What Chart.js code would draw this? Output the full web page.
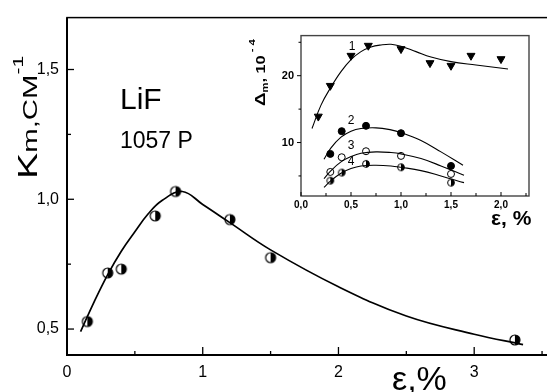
<!DOCTYPE html>
<html>
<head>
<meta charset="utf-8">
<script src="https://cdn.jsdelivr.net/npm/chart.js@4"></script>
<style>
  html, body { margin: 0; padding: 0; background: #fff; overflow: hidden; }
  #wrap { position: relative; width: 547px; height: 392px; overflow: hidden; }
  #main { position: absolute; left: 0; top: 0; width: 560px; height: 392px; }
  #inset { position: absolute; left: 240px; top: 22px; width: 300px; height: 210px; }
</style>
</head>
<body>
<div id="wrap">
  <canvas id="main" width="560" height="392"></canvas>
  <canvas id="inset" width="300" height="210"></canvas>
</div>
<script>
// main plot: K_m against strain, LiF 1057 P
const mainEps = [0.15, 0.30, 0.40, 0.65, 0.80, 1.20, 1.50, 3.30];
const mainKm = [0.529, 0.716, 0.731, 0.936, 1.03, 0.922, 0.775, 0.458];
const fitEps = [0.1, 0.2, 0.3, 0.4, 0.5, 0.6, 0.7, 0.85, 1.0, 1.2, 1.5, 2.0, 2.5, 3.0, 3.36];
const fitKm = [0.49, 0.605, 0.71, 0.80, 0.875, 0.945, 0.995, 1.03, 0.98, 0.91, 0.805, 0.663, 0.55, 0.48, 0.44];

const mainXTicks = [0, 1, 2, 3];
const mainXMinor = [0.5, 1.5, 2.5, 3.5];
const mainYTicks = [0.5, 1.0, 1.5];
const mainYMinor = [0.75, 1.25];

// inset: Delta_m (10^-4) against strain, curves 1-4
const eps1 = [0.173, 0.293, 0.5, 0.673, 1.0, 1.29, 1.5, 1.7, 2.0];
const delta1 = [13.9, 18.5, 23.0, 24.5, 24.0, 21.9, 21.5, 23.0, 22.5];
const epsB = [0.293, 0.407, 0.65, 1.0, 1.5];
const delta2 = [8.3, 11.7, 12.5, 11.4, 6.5];
const delta3 = [5.6, 7.8, 8.7, 8.0, 5.3];
const delta4 = [4.3, 5.5, 6.8, 6.3, 4.0];

const fit1Eps = [0.11, 0.2, 0.3, 0.4, 0.5, 0.6, 0.7, 0.8, 0.9, 1.0, 1.15, 1.3, 1.5, 1.75, 2.07];
const fit1 = [12.1, 15.6, 18.3, 20.6, 22.4, 23.6, 24.3, 24.6, 24.7, 24.4, 23.6, 22.8, 22.1, 21.6, 21.0];
const fit2Eps = [0.23, 0.3, 0.4, 0.5, 0.6, 0.75, 0.9, 1.0, 1.2, 1.4, 1.62];
const fit2 = [7.5, 9.2, 10.8, 11.7, 12.1, 12.2, 11.9, 11.5, 10.3, 8.6, 6.6];
const fitBEps = [0.23, 0.3, 0.4, 0.5, 0.6, 0.75, 0.9, 1.0, 1.2, 1.4, 1.63];
const fit3 = [4.6, 5.8, 7.1, 7.9, 8.4, 8.6, 8.5, 8.3, 7.6, 6.5, 5.1];
const fit4 = [3.3, 4.3, 5.4, 6.1, 6.5, 6.6, 6.5, 6.3, 5.8, 5.0, 4.0];

const insetXTicks = [0, 0.5, 1.0, 1.5, 2.0];
const insetXMinor = [0.25, 0.75, 1.25, 1.75, 2.25];
const insetYTicks = [10, 20];
const insetYMinor = [5, 15, 25];

const FONT = '"Liberation Sans", Arial, sans-serif';
const pts = (xs, ys) => xs.map((x, i) => ({ x: x, y: ys[i] }));
const comma = v => Number(v).toFixed(1).replace('.', ',');

// circle, left half white, right half black
function halfDot(r, lw) {
  const c = document.createElement('canvas');
  const s = Math.ceil(2 * r + lw + 2);
  c.width = c.height = s;
  const g = c.getContext('2d');
  const m = s / 2;
  g.fillStyle = '#fff';
  g.beginPath(); g.arc(m, m, r, 0, 2 * Math.PI); g.fill();
  g.fillStyle = '#000';
  g.beginPath(); g.arc(m, m, r, -Math.PI / 2, Math.PI / 2); g.closePath(); g.fill();
  g.lineWidth = lw; g.strokeStyle = '#000';
  g.beginPath(); g.arc(m, m, r, 0, 2 * Math.PI); g.stroke();
  return c;
}

function framePlugin(o) {
  return {
    id: 'frame',
    afterDatasetsDraw(chart) {
      const { ctx, chartArea: a, scales: { x, y } } = chart;
      ctx.save();
      ctx.strokeStyle = o.color;
      ctx.lineWidth = o.frameWidth;
      ctx.strokeRect(a.left, a.top, a.right - a.left, a.bottom - a.top);
      if (o.axisWidth) {
        ctx.strokeStyle = '#000';
        ctx.lineWidth = o.axisWidth;
        ctx.beginPath();
        ctx.moveTo(a.left, a.top); ctx.lineTo(a.left, a.bottom); ctx.lineTo(a.right, a.bottom);
        ctx.stroke();
      }
      ctx.strokeStyle = '#000';
      ctx.lineWidth = o.tickWidth;
      const seg = (x1, y1, x2, y2) => { ctx.beginPath(); ctx.moveTo(x1, y1); ctx.lineTo(x2, y2); ctx.stroke(); };
      [[o.xMajor, o.xLen[0]], [o.xMinor, o.xLen[1]]].forEach(([vals, len]) => vals.forEach(v => {
        const p = x.getPixelForValue(v);
        if (p < a.left - 1 || p > a.right + 1) return;
        seg(p, a.bottom, p, a.bottom - o.xDir * len);
      }));
      [[o.yMajor, o.yLen[0]], [o.yMinor, o.yLen[1]]].forEach(([vals, len]) => vals.forEach(v => {
        const p = y.getPixelForValue(v);
        seg(a.left, p, a.left + o.yDir * len, p);
      }));
      ctx.restore();
    },
    afterDraw(chart) {
      const ctx = chart.ctx;
      ctx.save();
      ctx.fillStyle = '#000';
      o.text(ctx, chart);
      ctx.restore();
    }
  };
}

// rotated title built from pieces [text, font, baseline shift]
function rotatedTitle(ctx, x, y, sx, parts) {
  ctx.save();
  ctx.translate(x, y);
  ctx.rotate(-Math.PI / 2);
  ctx.scale(sx, 1);
  ctx.textAlign = 'left';
  ctx.textBaseline = 'alphabetic';
  let cx = 0;
  parts.forEach(([t, f, dy]) => {
    ctx.font = f;
    ctx.fillText(t, cx, dy);
    cx += ctx.measureText(t).width;
  });
  ctx.restore();
}

const halfBig = halfDot(5, 1.2);
const halfSmall = halfDot(3.4, 1);

new Chart(document.getElementById('main'), {
  type: 'scatter',
  data: {
    datasets: [
      {
        data: pts(fitEps, fitKm),
        showLine: true,
        borderColor: '#000',
        borderWidth: 1.7,
        pointRadius: 0,
        tension: 0.4
      },
      {
        data: pts(mainEps, mainKm),
        pointStyle: halfBig,
        pointRadius: 5
      }
    ]
  },
  options: {
    responsive: false,
    animation: false,
    events: [],
    layout: { padding: { top: 12, left: 0, right: 0, bottom: 0 } },
    plugins: { legend: { display: false }, tooltip: { enabled: false } },
    scales: {
      x: {
        type: 'linear',
        min: 0,
        max: 3.588,
        afterBuildTicks: s => { s.ticks = mainXTicks.map(v => ({ value: v })); },
        afterFit: s => { s.height = 37; },
        grid: { display: false, drawTicks: false },
        border: { display: false },
        ticks: { padding: 8, color: '#000', font: { family: FONT, size: 16 }, callback: v => String(v) }
      },
      y: {
        min: 0.4,
        max: 1.7,
        afterBuildTicks: s => { s.ticks = mainYTicks.map(v => ({ value: v })); },
        afterFit: s => { s.width = 67; },
        grid: { display: false, drawTicks: false },
        border: { display: false },
        ticks: { padding: 8, color: '#000', font: { family: FONT, size: 16 }, callback: comma }
      }
    }
  },
  plugins: [framePlugin({
    color: '#000', frameWidth: 1.5, axisWidth: 2, tickWidth: 1.3,
    xMajor: mainXTicks, xMinor: mainXMinor, xLen: [8, 4], xDir: 1,
    yMajor: mainYTicks, yMinor: mainYMinor, yLen: [7, 4], yDir: 1,
    text(ctx) {
      ctx.textAlign = 'left';
      ctx.textBaseline = 'alphabetic';
      ctx.font = '30px ' + FONT;
      ctx.fillText('LiF', 120, 109);
      ctx.font = '23px ' + FONT;
      ctx.fillText('1057 P', 120, 148);
      ctx.font = '34px ' + FONT;
      ctx.fillText('ε,%', 392, 390);
      rotatedTitle(ctx, 37, 179, 1.4, [
        ['K', '28px ' + FONT, 0],
        ['m', '21px ' + FONT, 0],
        [',', '21px ' + FONT, 0],
        ['CM', '21px ' + FONT, 0],
        ['-1', '15px ' + FONT, -14]
      ]);
    }
  })]
});

const insetLabels = [['1', 0.51, 24.3], ['2', 0.50, 13.3], ['3', 0.50, 9.6], ['4', 0.50, 7.2]];

const fitLine = (xs, ys) => ({
  data: pts(xs, ys),
  showLine: true,
  borderColor: '#000',
  borderWidth: 1.1,
  pointRadius: 0,
  tension: 0.4
});

new Chart(document.getElementById('inset'), {
  type: 'scatter',
  data: {
    datasets: [
      fitLine(fit1Eps, fit1),
      fitLine(fit2Eps, fit2),
      fitLine(fitBEps, fit3),
      fitLine(fitBEps, fit4),
      { data: pts(eps1, delta1), pointStyle: 'triangle', rotation: 180, pointRadius: 4.6,
        backgroundColor: '#000', borderColor: '#000', borderWidth: 1 },
      { data: pts(epsB, delta2), pointStyle: 'circle', pointRadius: 3.5,
        backgroundColor: '#000', borderColor: '#000', borderWidth: 1 },
      { data: pts(epsB, delta3), pointStyle: 'circle', pointRadius: 3.5,
        backgroundColor: '#fff', borderColor: '#000', borderWidth: 1 },
      { data: pts(epsB, delta4), pointStyle: halfSmall, pointRadius: 3.5 }
    ]
  },
  options: {
    responsive: false,
    animation: false,
    events: [],
    layout: { padding: { top: 10, left: 0, right: 11, bottom: 0 } },
    plugins: { legend: { display: false }, tooltip: { enabled: false } },
    scales: {
      x: {
        type: 'linear',
        min: 0,
        max: 2.28,
        afterBuildTicks: s => { s.ticks = insetXTicks.map(v => ({ value: v })); },
        afterFit: s => { s.height = 36; },
        grid: { display: false, drawTicks: false },
        border: { display: false },
        ticks: { padding: 3, color: '#000', font: { family: FONT, size: 10, weight: 'bold' }, callback: comma }
      },
      y: {
        min: 2,
        max: 26,
        afterBuildTicks: s => { s.ticks = insetYTicks.map(v => ({ value: v })); },
        afterFit: s => { s.width = 61; },
        grid: { display: false, drawTicks: false },
        border: { display: false },
        ticks: { padding: 7, color: '#000', font: { family: FONT, size: 11, weight: 'bold' }, callback: v => String(v) }
      }
    }
  },
  plugins: [framePlugin({
    color: '#444', frameWidth: 1.4, axisWidth: 0, tickWidth: 1,
    xMajor: insetXTicks, xMinor: insetXMinor, xLen: [4, 3], xDir: 1,
    yMajor: insetYTicks, yMinor: insetYMinor, yLen: [4, 2.5], yDir: -1,
    text(ctx, chart) {
      const { x, y } = chart.scales;
      ctx.textAlign = 'center';
      ctx.textBaseline = 'middle';
      ctx.font = '12px ' + FONT;
      insetLabels.forEach(([t, ex, dy]) => ctx.fillText(t, x.getPixelForValue(ex), y.getPixelForValue(dy)));
      ctx.textAlign = 'left';
      ctx.textBaseline = 'alphabetic';
      ctx.font = 'bold 21px ' + FONT;
      ctx.fillText('ε, %', 251, 203);
      rotatedTitle(ctx, 25, 84, 1.25, [
        ['Δ', 'bold 15px ' + FONT, 0],
        ['m', 'bold 9px ' + FONT, 3],
        [', ', 'bold 13px ' + FONT, 0],
        ['10', 'bold 13px ' + FONT, 0],
        [' - 4', 'bold 9px ' + FONT, -10]
      ]);
    }
  })]
});
</script>
</body>
</html>
